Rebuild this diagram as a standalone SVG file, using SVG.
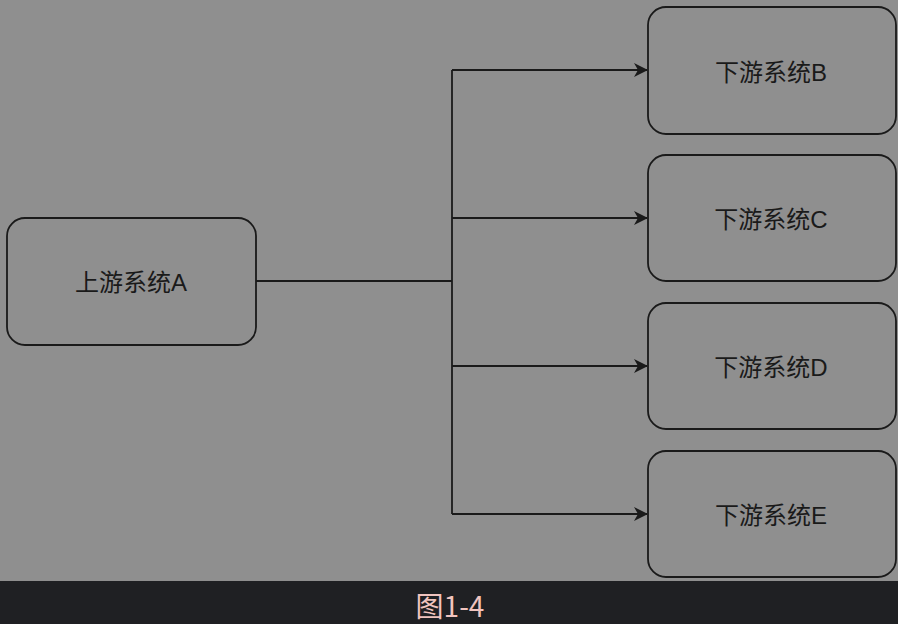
<svg xmlns="http://www.w3.org/2000/svg" width="898" height="624" viewBox="0 0 898 624">
<defs>
<style>
.box{fill:none;stroke:#1a1a1a;stroke-width:1.8}
.lbl{font-family:"Liberation Sans","Noto Sans CJK SC",sans-serif;font-size:24px;fill:#1a1a1a;text-anchor:middle;dominant-baseline:central}
.edge{fill:none;stroke:#1a1a1a;stroke-width:1.8}
.cap{font-family:"Noto Sans CJK SC","Noto Sans",sans-serif;font-size:28px;fill:#f1c4bf;text-anchor:middle}
</style>
<marker id="arr" viewBox="0 0 14 14" refX="13" refY="7" markerWidth="14" markerHeight="14" markerUnits="userSpaceOnUse" orient="auto">
<path d="M0,0 L14,7 L0,14 L4,7 Z" fill="#1a1a1a"/>
</marker>
</defs>
<rect x="0" y="0" width="898" height="581" fill="#8f8f8f"/>
<rect x="0" y="581" width="898" height="43" fill="#1f2023"/>
<g id="connectors">
<path class="edge" d="M256,281 H452"/>
<path class="edge" d="M452,70 V514"/>
<path class="edge" d="M452,70 H647" marker-end="url(#arr)"/>
<path class="edge" d="M452,218 H647" marker-end="url(#arr)"/>
<path class="edge" d="M452,366 H647" marker-end="url(#arr)"/>
<path class="edge" d="M452,514 H647" marker-end="url(#arr)"/>
</g>
<g id="nodeA">
<rect class="box" x="7" y="218" width="249" height="127" rx="18"/>
<text class="lbl" x="131" y="282">上游系统A</text>
</g>
<g id="nodeB">
<rect class="box" x="648" y="7" width="248" height="127" rx="18"/>
<text class="lbl" x="771" y="72">下游系统B</text>
</g>
<g id="nodeC">
<rect class="box" x="648" y="155" width="248" height="126" rx="18"/>
<text class="lbl" x="771" y="219">下游系统C</text>
</g>
<g id="nodeD">
<rect class="box" x="648" y="303" width="248" height="126" rx="18"/>
<text class="lbl" x="771" y="367">下游系统D</text>
</g>
<g id="nodeE">
<rect class="box" x="648" y="451" width="248" height="126" rx="18"/>
<text class="lbl" x="771" y="515">下游系统E</text>
</g>
<text class="cap" x="450" y="617">图1-4</text>
</svg>
